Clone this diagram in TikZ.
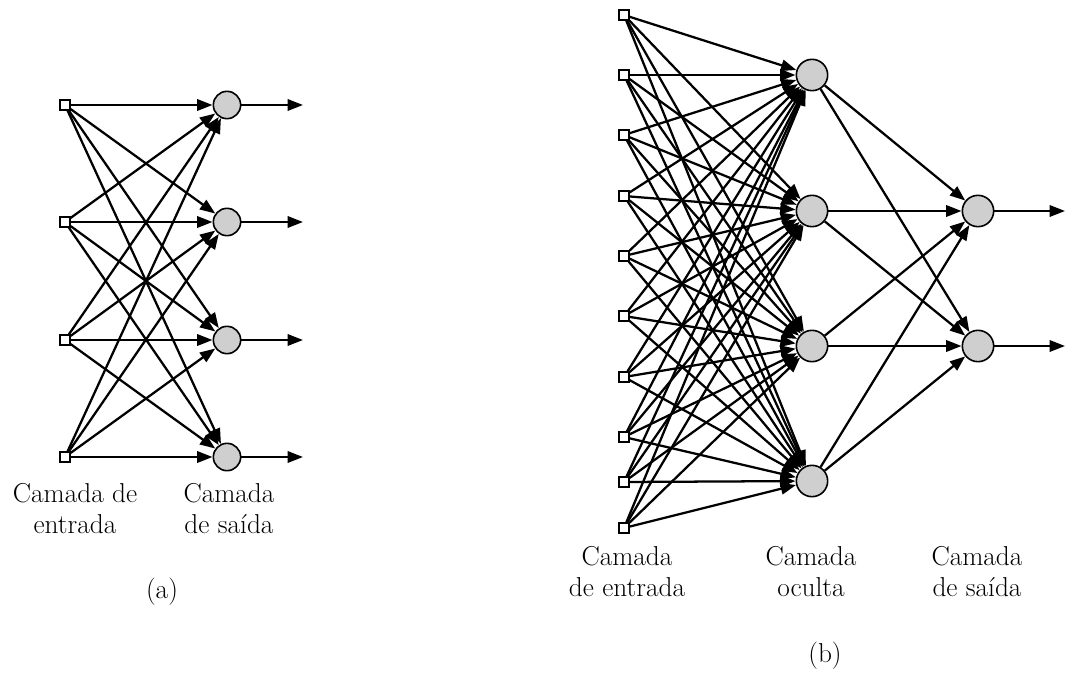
\documentclass[tikz,border=0pt]{standalone}
\usetikzlibrary{arrows.meta}
\tikzset{
  inp/.style={draw, line width=1.5pt, fill=white, minimum size=7pt, inner sep=0pt},
  neuron/.style={circle, draw, line width=1.2pt, fill=black!19, inner sep=0pt},
  syn/.style={line width=1.7pt, -{Triangle[length=11.5pt,width=8.5pt]}},
  lbl/.style={align=center, inner sep=0pt, anchor=north, font=\fontsize{20.5}{23}\selectfont},
}
\begin{document}
\begin{tikzpicture}[x=0.75pt,y=-0.75pt]
\useasboundingbox (0,0) rectangle (1066,678);

% (a) camada unica
\foreach \i/\y in {1/105,2/222,3/340,4/457} {
  \node[inp] (a-in\i) at (65,\y) {};
  \node[neuron, minimum size=20.5pt] (a-out\i) at (227,\y) {};
  \coordinate (a-end\i) at (303,\y);
}
\foreach \i in {1,...,4}
  \foreach \j in {1,...,4}
    \draw[syn] (a-in\i) -- (a-out\j);
\foreach \i in {1,...,4}
  \draw[syn] (a-out\i) -- (a-end\i);

\node[lbl] (a-lin) at (75,483) {Camada de\\entrada};
\node[lbl] (a-lout) at (229,483) {Camada\\de saída};
\node[lbl] (a-cap) at (162,578) {(a)};

% (b) rede com camada oculta
\foreach \i/\y in {1/15,2/75,3/135,4/196,5/256,6/316,7/377,8/437,9/482,10/528}
  \node[inp] (b-in\i) at (624,\y) {};
\foreach \j/\y in {1/75,2/211,3/346,4/481}
  \node[neuron, minimum size=23.5pt] (b-hid\j) at (812,\y) {};
\foreach \k/\y in {1/211,2/346} {
  \node[neuron, minimum size=23.5pt] (b-out\k) at (978,\y) {};
  \coordinate (b-end\k) at (1065,\y);
}
\foreach \i in {1,...,10}
  \foreach \j in {1,...,4}
    \draw[syn] (b-in\i) -- (b-hid\j);
\foreach \j in {1,...,4}
  \foreach \k in {1,2}
    \draw[syn] (b-hid\j) -- (b-out\k);
\foreach \k in {1,2}
  \draw[syn] (b-out\k) -- (b-end\k);

\node[lbl] (b-lin) at (627,546) {Camada\\de entrada};
\node[lbl] (b-lhid) at (811,546) {Camada\\oculta};
\node[lbl] (b-lout) at (977,546) {Camada\\de saída};
\node[lbl] (b-cap) at (825,642) {(b)};
\end{tikzpicture}
\end{document}
